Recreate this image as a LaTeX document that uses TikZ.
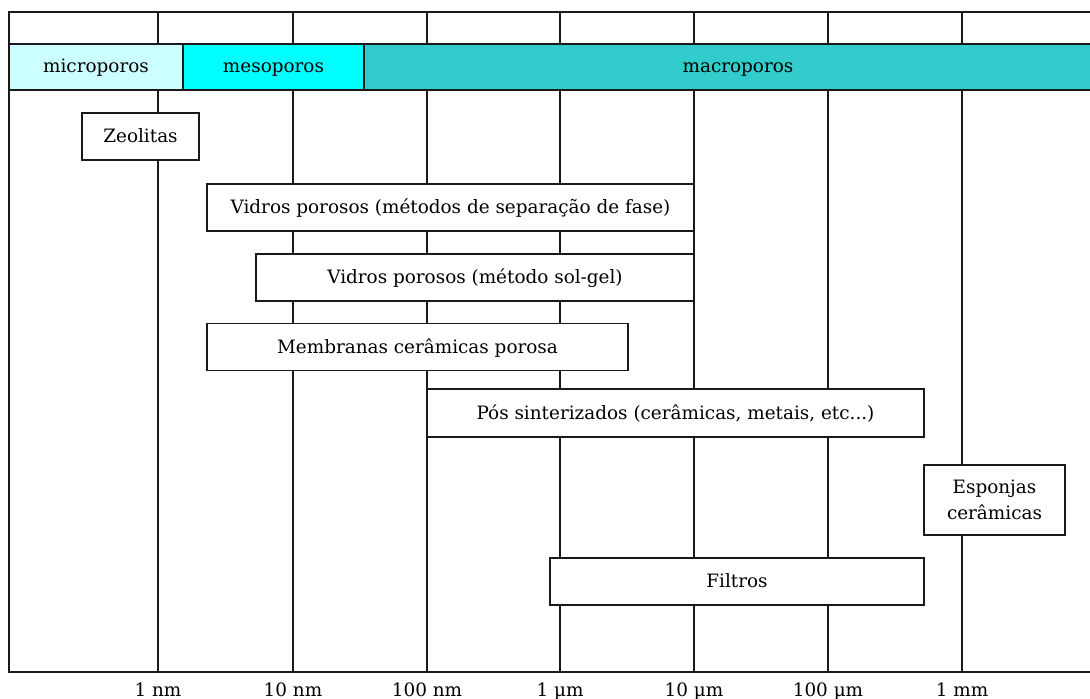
\documentclass[tikz,border=0pt]{standalone}
\usepackage{fontspec}
\setmainfont{DejaVu Serif}
\begin{document}
\begin{tikzpicture}[x=0.75pt,y=-0.75pt,
  font=\fontsize{13.8}{19.5}\selectfont,
  oneline/.style={text height=11pt,text depth=2pt},
  grid/.style={line width=1.4pt,draw=black!90},
  band/.style={line width=1.4pt,draw=black!90},
  box/.style={draw=black!90,line width=1.4pt,fill=white,inner sep=0pt,align=center},
  item/.style={box,oneline},
  scalelabel/.style={oneline,inner sep=0pt,anchor=center}]
\useasboundingbox (0,0) rectangle (1090,699);

% scale positions (one decade per step)
\foreach \n/\x in {nm1/158,nm10/293,nm100/427,um1/560,um10/694,um100/828,mm1/962}
  \coordinate (\n) at (\x,672);
\coordinate (tl) at (9,12);
\coordinate (bl) at (9,672);
\coordinate (tr) at (1090,12);
\coordinate (br) at (1090,672);

% grid lines
\foreach \n in {nm1,nm10,nm100,um1,um10,um100,mm1}
  \draw[grid] (\n) -- (\n |- tl);
\draw[grid] (tr) -- (tl) -- (bl) -- (br);

% pore-size classes
\path[fill={rgb,255:red,204;green,255;blue,255}] (9,44) rectangle (183,90);
\path[fill={rgb,255:red,0;green,255;blue,255}] (183,44) rectangle (364,90);
\path[fill={rgb,255:red,51;green,204;blue,204}] (364,44) rectangle (1092,90);
\draw[band] (9,44) rectangle (183,90);
\draw[band] (183,44) rectangle (364,90);
\draw[band] (364,44) -- (1092,44) (364,44) -- (364,90) -- (1092,90);
\node[oneline] (micro) at (96,67) {microporos};
\node[oneline] (meso) at (273.5,67) {mesoporos};
\node[oneline] (macro) at (738,67) {macroporos};

% materials and their pore-size ranges
\node[item,minimum width=117*0.75pt,minimum height=47*0.75pt] (zeo) at (140.5,136.5) {Zeolitas};
\node[item,minimum width=487*0.75pt,minimum height=47*0.75pt] (vsep) at (450.5,207.5) {Vidros porosos (métodos de separação de fase)};
\node[item,minimum width=438*0.75pt,minimum height=47*0.75pt] (vsol) at (475,277.5) {Vidros porosos (método sol-gel)};
\node[item,minimum width=421*0.75pt,minimum height=47*0.75pt] (memb) at (417.5,347) {Membranas cerâmicas porosa};
\node[item,minimum width=497*0.75pt,minimum height=48*0.75pt] (pos) at (675.5,413) {Pós sinterizados (cerâmicas, metais, etc...)};
\node[box,minimum width=141*0.75pt,minimum height=70*0.75pt] (esp) at (994.5,500) {Esponjas\\cerâmicas};
\node[item,minimum width=374*0.75pt,minimum height=47*0.75pt] (filt) at (737,581.5) {Filtros};

% scale labels
\node[scalelabel] (l1) at (158,690) {1 nm};
\node[scalelabel] (l2) at (293,690) {10 nm};
\node[scalelabel] (l3) at (427,690) {100 nm};
\node[scalelabel] (l4) at (560,690) {1 µm};
\node[scalelabel] (l5) at (694,690) {10 µm};
\node[scalelabel] (l6) at (828,690) {100 µm};
\node[scalelabel] (l7) at (962,690) {1 mm};
\end{tikzpicture}
\end{document}
